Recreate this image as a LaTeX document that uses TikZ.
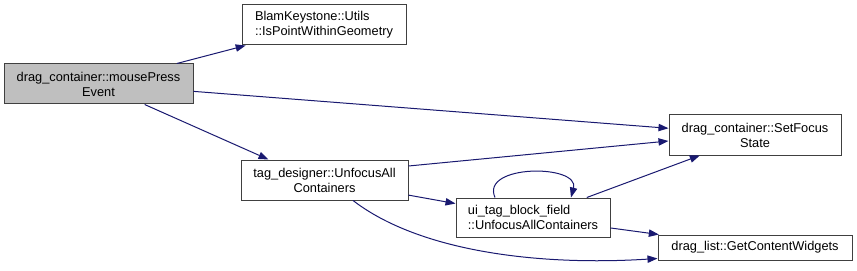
\documentclass[tikz,border=0pt]{standalone}
\usepackage{fontspec}
\setmainfont{Liberation Sans}
\usetikzlibrary{arrows.meta,calc}
\definecolor{edgeblue}{HTML}{191970}
\definecolor{boxline}{HTML}{404040}
\definecolor{curfill}{HTML}{BFBFBF}
\tikzset{
  fn/.style  = {draw=boxline, line width=0.75pt, rectangle, fill=white,
                inner sep=0pt, align=center,
                font=\fontsize{9.6}{11.25}\selectfont},
  fnl/.style = {fn, align=left},
  cur/.style = {fn, fill=curfill},
  ar/.style  = {-{Triangle[length=7.5pt,width=5.5pt]}, draw=edgeblue,
                line width=0.75pt},
}
\begin{document}
\begin{tikzpicture}[x=0.75pt, y=-0.75pt]
\useasboundingbox (0,0) rectangle (857,271);
%% ---- caller ----------------------------------------------------------
\node[cur, minimum width=141.75pt, minimum height=30pt] (press) at (98.5,84)
  {drag\_container::mousePress\\Event};

%% ---- first level -----------------------------------------------------
\node[fnl, minimum width=123pt, minimum height=30pt] (point) at (324,25)
  {BlamKeystone::Utils\\::IsPointWithinGeometry};
\node[fn, minimum width=125.25pt, minimum height=30pt] (unfocus) at (324.5,180)
  {tag\_designer::UnfocusAll\\Containers};

%% ---- second level ----------------------------------------------------
\node[fnl, minimum width=115.5pt, minimum height=29.25pt] (field) at (533,217.5)
  {ui\_tag\_block\_field\\::UnfocusAllContainers};

%% ---- leaves ----------------------------------------------------------
\node[fn, minimum width=129pt, minimum height=30pt] (focus) at (755,135)
  {drag\_container::SetFocus\\State};
\node[fn, minimum width=145.5pt, minimum height=18.75pt] (widgets) at (755,247.5)
  {drag\_list::GetContentWidgets};

%% ---- arrows ----------------------------------------------------------
\draw[ar] (press) -- (point);
\draw[ar] (press) -- (focus);
\draw[ar] (press) -- ($(unfocus.north)+(-56,0)$);

\draw[ar] ($(unfocus.east)+(0,-14)$) -- ($(focus.west)+(0,6)$);
\draw[ar] (unfocus) -- (field);
\draw[ar] ($(unfocus.south)+(28.5,0)$)
  .. controls (420,252) and (540,266) .. ($(widgets.west)+(0,11)$);

\draw[ar] (field) -- (focus);
\draw[ar] (field) -- (widgets);
%% recursive call
\draw[ar] ($(field.north)+(-38,0)$)
  .. controls (480,164) and (580,164) .. ($(field.north)+(38,0)$);
\end{tikzpicture}
\end{document}
